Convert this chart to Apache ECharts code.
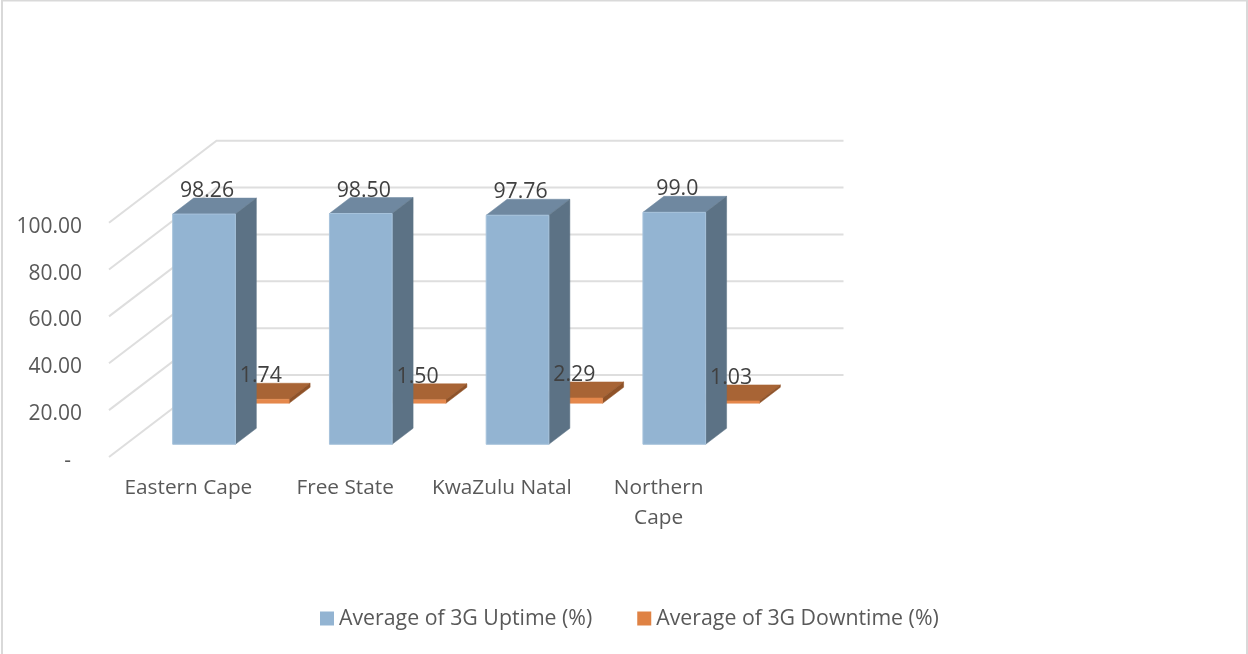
<!DOCTYPE html>
<html><head><meta charset="utf-8">
<style>html,body{margin:0;padding:0;background:#fff}#c{width:1248px;height:654px}</style>
<script src="https://cdn.jsdelivr.net/npm/echarts@6/dist/echarts.min.js"></script>
</head><body><div id="c"></div>
<script>
const categories = ['Eastern Cape', 'Free State', 'KwaZulu Natal', 'Northern\nCape'];
const uptime = [98.26, 98.50, 97.76, 99.0];
const downtime = [1.74, 1.50, 2.29, 1.03];
const uptimeLabels = ['98.26', '98.50', '97.76', '99.0'];
const downtimeLabels = ['1.74', '1.50', '2.29', '1.03'];
const yTicks = [0, 20, 40, 60, 80, 100];

const DX = 107.5, DY = 82, FONT = '"Open Sans"';
const chart = echarts.init(document.getElementById('c'), null, {renderer: 'canvas'});

function poly(points, fill, stroke) {
  return {type: 'polygon', shape: {points}, style: {fill, stroke: stroke || fill, lineWidth: stroke ? 1 : 0.5}};
}
function cuboid(row, colors) {
  return function (params, api) {
    const top = api.coord([api.value(0), api.value(1)]);
    const base = api.coord([api.value(0), 0]);
    const w = api.size([1, 0])[0] * 0.4;
    const d0 = row - 0.095, d1 = row + 0.1;
    const P = (x, y, d) => [x + DX * d, y - DY * d];
    const l = top[0] - w / 2, r = top[0] + w / 2;
    return {type: 'group', children: [
      poly([P(l, top[1], d0), P(l, top[1], d1), P(r, top[1], d1), P(r, top[1], d0)], colors.top),
      poly([P(r, top[1], d0), P(r, top[1], d1), P(r, base[1], d1), P(r, base[1], d0)], colors.side),
      poly([P(l, top[1], d0), P(r, top[1], d0), P(r, base[1], d0), P(l, base[1], d0)], colors.front, colors.edge)
    ]};
  };
}
function labelSeries(values, labels, row) {
  return {
    type: 'custom', z: 10, silent: true, legendHoverLink: false,
    data: values.map((v, i) => [i, v]), encode: {x: 0, y: 1},
    renderItem(params, api) {
      const p = api.coord([api.value(0), api.value(1)]);
      const d = row - 0.095;
      return {type: 'text', style: {
        x: p[0] + DX * d + 3, y: p[1] - DY * d - 23,
        text: labels[params.dataIndex], fill: '#404040',
        font: '21.3px ' + FONT, textAlign: 'center', textVerticalAlign: 'middle'
      }};
    }
  };
}

chart.setOption({
  animation: false,
  backgroundColor: '#fff',
  textStyle: {fontFamily: FONT},
  graphic: [{type: 'rect', silent: true, shape: {x: 2, y: 0.5, width: 1245, height: 700},
    style: {fill: 'none', stroke: '#D9D9D9', lineWidth: 2}}],
  grid: {left: 109, top: 222.7, width: 627, height: 234.3, containLabel: false},
  legend: {
    left: 315, top: 603, itemWidth: 14, itemHeight: 14, itemGap: 45, icon: 'rect',
    data: ['Average of 3G Uptime (%)', 'Average of 3G Downtime (%)'],
    textStyle: {fontFamily: FONT, fontSize: 21.3, color: '#595959'}
  },
  xAxis: {type: 'category', data: categories,
    axisLine: {show: false}, axisTick: {show: false}, splitLine: {show: false},
    axisLabel: {margin: 16, padding: [0, 0, 0, 2], fontFamily: FONT, fontSize: 20.8, lineHeight: 30, color: '#595959', interval: 0}},
  yAxis: {type: 'value', min: 0, max: 100, interval: 20,
    axisLine: {show: false}, axisTick: {show: false}, splitLine: {show: false},
    axisLabel: {margin: 27, verticalAlign: 'top', lineHeight: 8, fontFamily: FONT, fontSize: 21, color: '#595959',
      formatter: v => v === 0 ? '-  ' : v.toFixed(2)}},
  series: [
    {type: 'custom', z: 1, silent: true, data: yTicks.map(v => [0, v]), encode: {x: 0, y: 1},
      renderItem(params, api) {
        const cs = params.coordSys;
        const y = api.coord([0, api.value(1)])[1];
        return {type: 'polyline', shape: {points: [[cs.x, y], [cs.x + DX, y - DY], [cs.x + cs.width + DX, y - DY]]},
          style: {fill: 'none', stroke: '#DEDEDE', lineWidth: 2}};
      }},
    {name: 'Average of 3G Downtime (%)', type: 'custom', z: 2, silent: true,
      itemStyle: {color: '#DF8244'},
      data: downtime.map((v, i) => [i, v]), encode: {x: 0, y: 1},
      renderItem: cuboid(0.75, {front: '#E5884C', top: '#A86435', side: '#8F5228'})},
    {name: 'Average of 3G Uptime (%)', type: 'custom', z: 3, silent: true,
      itemStyle: {color: '#93B4D2'},
      data: uptime.map((v, i) => [i, v]), encode: {x: 0, y: 1},
      renderItem: cuboid(0.25, {front: '#93B4D2', top: '#6F88A0', side: '#5C7285', edge: '#A6C2DB'})},
    labelSeries(uptime, uptimeLabels, 0.25),
    labelSeries(downtime, downtimeLabels, 0.75)
  ]
});
</script></body></html>
